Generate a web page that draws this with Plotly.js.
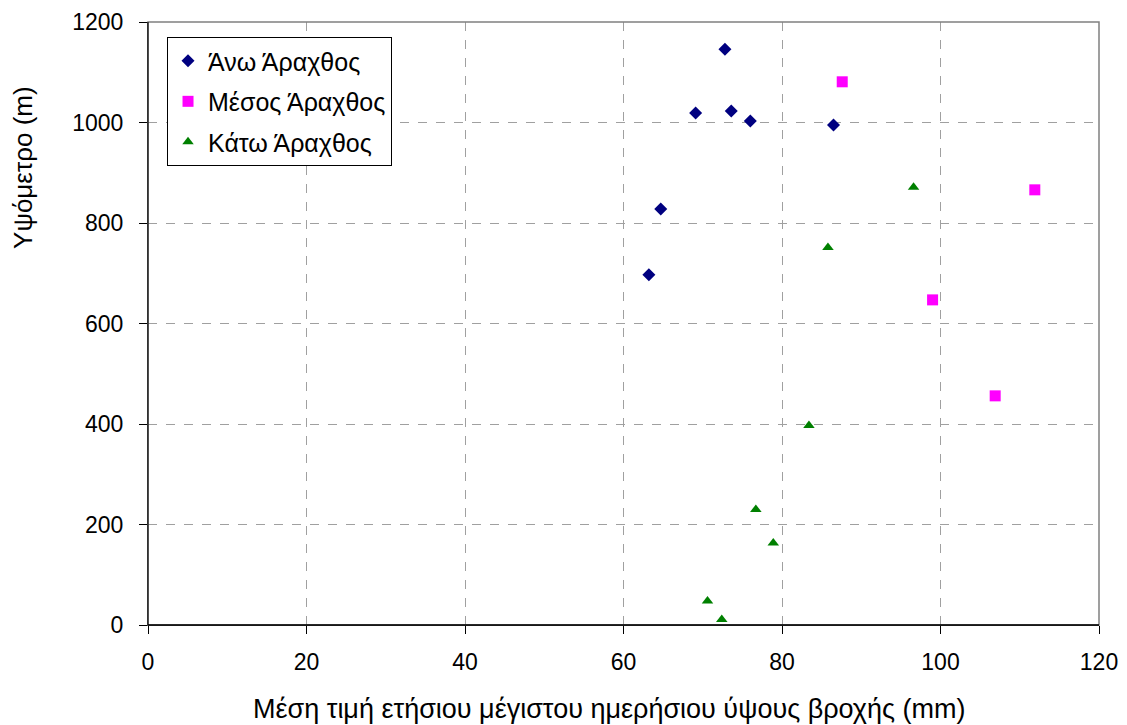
<!DOCTYPE html>
<html>
<head>
<meta charset="utf-8">
<script src="https://cdn.plot.ly/plotly-3.0.1.min.js"></script>
<style>
  html, body { margin: 0; padding: 0; background: #ffffff; }
  #chart { width: 1127px; height: 725px; }
</style>
</head>
<body>
<div id="chart"></div>
<script>
// Mean annual maximum daily rainfall (mm) vs. station elevation (m)
const anoX = [63.2, 64.7, 69.1, 72.8, 73.6, 76.0, 86.5];
const anoY = [697, 828, 1019, 1146, 1023, 1003, 995];

const mesosX = [87.6, 111.9, 99.0, 106.9];
const mesosY = [1081, 866, 647, 456];

const katoX = [96.6, 85.8, 83.4, 76.7, 78.9, 70.6, 72.4];
const katoY = [871, 751, 397, 230, 163, 48, 11];

const seriesNames = ['Άνω Άραχθος', 'Μέσος Άραχθος', 'Κάτω Άραχθος'];
const xTitle = 'Μέση τιμή ετήσιου μέγιστου ημερήσιου ύψους βροχής (mm)';
const yTitle = 'Υψόμετρο (m)';

const font = 'Liberation Sans, Arial, sans-serif';

const traces = [
  { x: anoX, y: anoY, name: seriesNames[0], legendgroup: 'a', type: 'scatter', mode: 'markers',
    marker: { symbol: 'diamond', size: 10, color: '#000080' } },
  { x: mesosX, y: mesosY, name: seriesNames[1], legendgroup: 'b', type: 'scatter', mode: 'markers',
    marker: { symbol: 'square', size: 11, color: '#FF00FF' } },
  { x: katoX, y: katoY, name: seriesNames[2], legendgroup: 'c', type: 'scatter', mode: 'markers',
    marker: { symbol: 'triangle-up', size: 10, color: '#008000' } }
];

const axisCommon = {
  showgrid: true,
  gridcolor: '#a0a0a0',
  griddash: 'dash',
  gridwidth: 1,
  zeroline: false,
  showline: true,
  linecolor: '#000000',
  linewidth: 1,
  ticks: 'outside',
  ticklen: 8,
  tickcolor: '#000000',
  tickfont: { family: font, size: 23, color: '#000000' }
};

const layout = {
  width: 1127,
  height: 725,
  margin: { l: 148, r: 28, t: 22, b: 100 },
  paper_bgcolor: '#ffffff',
  plot_bgcolor: '#ffffff',
  showlegend: true,
  xaxis: Object.assign({}, axisCommon, {
    range: [0, 120],
    tickvals: [0, 20, 40, 60, 80, 100, 120],
    ticklabelstandoff: 8
  }),
  yaxis: Object.assign({}, axisCommon, {
    range: [0, 1200],
    tickvals: [0, 200, 400, 600, 800, 1000, 1200],
    ticklabelstandoff: 11
  }),
  legend: {
    x: 0.02, y: 0.975, xanchor: 'left', yanchor: 'top',
    bgcolor: '#ffffff',
    bordercolor: '#000000',
    borderwidth: 1,
    font: { family: font, size: 25, color: '#000000' },
    tracegroupgap: 5,
    traceorder: 'grouped'
  },
  // Axis titles placed as annotations so they sit where the layout needs them
  annotations: [
    { text: xTitle, xref: 'paper', yref: 'paper', x: 0.4848, y: -0.139,
      xanchor: 'center', yanchor: 'middle', showarrow: false,
      font: { family: font, size: 27, color: '#000000' } },
    { text: yTitle, xref: 'paper', yref: 'paper', x: -0.1314, y: 0.758,
      xanchor: 'center', yanchor: 'middle', showarrow: false, textangle: -90,
      font: { family: font, size: 26, color: '#000000' } }
  ],
  shapes: [
    { type: 'rect', xref: 'paper', yref: 'paper', x0: 0, x1: 1, y0: 0, y1: 1,
      line: { color: '#808080', width: 1.5 }, layer: 'above' },
    { type: 'line', xref: 'paper', yref: 'paper', x0: 0, x1: 0, y0: 0, y1: 1,
      line: { color: '#000000', width: 1 }, layer: 'above' },
    { type: 'line', xref: 'paper', yref: 'paper', x0: 0, x1: 1, y0: 0, y1: 0,
      line: { color: '#000000', width: 1.5 }, layer: 'above' }
  ]
};

Plotly.newPlot('chart', traces, layout, { displayModeBar: false, staticPlot: true });
</script>
</body>
</html>
